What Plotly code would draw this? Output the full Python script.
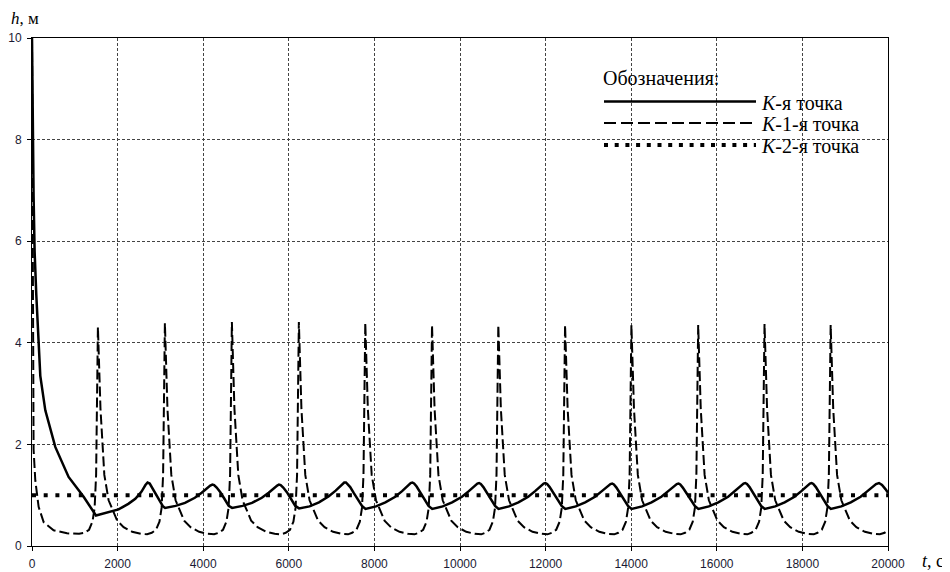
import plotly.graph_objects as go

# ---------------- data ----------------
# K-я точка (solid)
t_k = [0, 15, 37, 61, 100, 194, 311, 544, 855, 1206, 1350, 1495,
       2023, 2250, 2414, 2560, 2650, 2700, 2750, 2841, 2950, 3060,
       3110, 3355, 3575, 3805, 3965, 4085, 4165, 4215, 4255, 4315, 4400, 4495, 4595,
       4675, 4920, 5140, 5370, 5530, 5650, 5730, 5770, 5810, 5870, 5955, 6050, 6150,
       6240, 6485, 6705, 6935, 7095, 7215, 7295, 7335, 7375, 7435, 7520, 7610, 7710,
       7792, 8037, 8257, 8487, 8647, 8767, 8847, 8887, 8927, 8987, 9070, 9165, 9265,
       9351, 9596, 9816, 10046, 10206, 10326, 10406, 10446, 10486, 10546, 10629, 10720, 10820,
       10900, 11145, 11365, 11595, 11755, 11875, 11955, 11995, 12035, 12095, 12180, 12275, 12375,
       12460, 12705, 12925, 13155, 13315, 13435, 13515, 13555, 13595, 13655, 13730, 13825, 13925,
       14010, 14255, 14475, 14705, 14865, 14985, 15065, 15105, 15145, 15205, 15290, 15385, 15485,
       15570, 15815, 16035, 16265, 16425, 16545, 16625, 16665, 16705, 16765, 16840, 16935, 17035,
       17120, 17365, 17585, 17815, 17975, 18095, 18175, 18215, 18255, 18315, 18390, 18485, 18585,
       18665, 18910, 19130, 19360, 19520, 19640, 19720, 19790, 19860, 19940, 20000]
h_k = [10.0, 8.5, 6.9, 5.8, 4.95, 3.35, 2.67, 1.95, 1.36, 0.97, 0.78, 0.60,
       0.72, 0.83, 0.93, 1.07, 1.20, 1.25, 1.23, 1.10, 0.93, 0.78,
       0.75, 0.79, 0.85, 0.95, 1.05, 1.14, 1.19, 1.21, 1.20, 1.15, 1.06, 0.93, 0.79,
       0.75, 0.79, 0.85, 0.95, 1.05, 1.14, 1.19, 1.21, 1.20, 1.15, 1.06, 0.93, 0.79,
       0.74, 0.78, 0.86, 0.98, 1.09, 1.19, 1.25, 1.25, 1.22, 1.16, 1.04, 0.92, 0.79,
       0.73, 0.78, 0.86, 0.97, 1.08, 1.18, 1.24, 1.25, 1.23, 1.17, 1.05, 0.92, 0.79,
       0.73, 0.78, 0.86, 0.97, 1.08, 1.18, 1.23, 1.24, 1.22, 1.16, 1.05, 0.92, 0.79,
       0.73, 0.78, 0.86, 0.97, 1.08, 1.18, 1.23, 1.24, 1.22, 1.16, 1.05, 0.92, 0.79,
       0.73, 0.78, 0.86, 0.97, 1.08, 1.17, 1.22, 1.23, 1.21, 1.15, 1.05, 0.92, 0.79,
       0.73, 0.78, 0.86, 0.97, 1.08, 1.17, 1.22, 1.23, 1.21, 1.15, 1.05, 0.92, 0.79,
       0.73, 0.78, 0.86, 0.97, 1.08, 1.18, 1.23, 1.24, 1.22, 1.16, 1.05, 0.92, 0.79,
       0.73, 0.78, 0.86, 0.97, 1.08, 1.18, 1.23, 1.24, 1.22, 1.16, 1.05, 0.92, 0.79,
       0.73, 0.78, 0.86, 0.97, 1.08, 1.17, 1.22, 1.24, 1.20, 1.12, 1.05]

# K-1-я точка (dashed)
t_k1 = [0, 8, 18, 37, 77, 155, 272, 505, 818, 1100, 1233, 1333, 1413, 1463, 1498, 1520, 1533,
        1540, 1600, 1690, 1790, 1890, 1990, 2140, 2340, 2540, 2690, 2798, 2898, 2978, 3028, 3063, 3085, 3098,
        3105, 3165, 3255, 3355, 3455, 3555, 3705, 3905, 4105, 4255, 4363, 4463, 4543, 4593, 4628, 4650, 4663,
        4670, 4730, 4820, 4920, 5020, 5120, 5270, 5470, 5670, 5820, 5928, 6028, 6108, 6158, 6193, 6215, 6228,
        6235, 6295, 6385, 6485, 6585, 6685, 6835, 7035, 7235, 7385, 7480, 7580, 7660, 7710, 7745, 7767, 7780,
        7787, 7847, 7937, 8037, 8137, 8237, 8387, 8587, 8787, 8937, 9039, 9139, 9219, 9269, 9304, 9326, 9339,
        9346, 9406, 9496, 9596, 9696, 9796, 9946, 10146, 10346, 10496, 10588, 10688, 10768, 10818, 10853, 10875, 10888,
        10895, 10955, 11045, 11145, 11245, 11345, 11495, 11695, 11895, 12045, 12148, 12248, 12328, 12378, 12413, 12435, 12448,
        12455, 12515, 12605, 12705, 12805, 12905, 13055, 13255, 13455, 13605, 13698, 13798, 13878, 13928, 13963, 13985, 13998,
        14005, 14065, 14155, 14255, 14355, 14455, 14605, 14805, 15005, 15155, 15258, 15358, 15438, 15488, 15523, 15545, 15558,
        15565, 15625, 15715, 15815, 15915, 16015, 16165, 16365, 16565, 16715, 16808, 16908, 16988, 17038, 17073, 17095, 17108,
        17115, 17175, 17265, 17365, 17465, 17565, 17715, 17915, 18115, 18265, 18353, 18453, 18533, 18583, 18618, 18640, 18653,
        18660, 18720, 18810, 18910, 19010, 19110, 19260, 19460, 19660, 19810, 19920, 20000]
h_k1 = [10.0, 7.0, 4.0, 1.9, 1.29, 0.77, 0.47, 0.31, 0.25, 0.24, 0.26, 0.32, 0.48, 0.75, 1.4, 2.8, 3.8,
        4.31, 2.7, 1.4, 0.9, 0.68, 0.5, 0.37, 0.28, 0.24, 0.23, 0.26, 0.32, 0.48, 0.75, 1.4, 2.8, 3.8,
        4.39, 2.7, 1.4, 0.9, 0.68, 0.5, 0.37, 0.28, 0.24, 0.23, 0.26, 0.32, 0.48, 0.75, 1.4, 2.8, 3.8,
        4.41, 2.7, 1.4, 0.9, 0.68, 0.5, 0.37, 0.28, 0.24, 0.23, 0.26, 0.32, 0.48, 0.75, 1.4, 2.8, 3.8,
        4.41, 2.7, 1.4, 0.9, 0.68, 0.5, 0.37, 0.28, 0.24, 0.23, 0.26, 0.32, 0.48, 0.75, 1.4, 2.8, 3.8,
        4.39, 2.7, 1.4, 0.9, 0.68, 0.5, 0.37, 0.28, 0.24, 0.23, 0.26, 0.32, 0.48, 0.75, 1.4, 2.8, 3.8,
        4.35, 2.7, 1.4, 0.9, 0.68, 0.5, 0.37, 0.28, 0.24, 0.23, 0.26, 0.32, 0.48, 0.75, 1.4, 2.8, 3.8,
        4.35, 2.7, 1.4, 0.9, 0.68, 0.5, 0.37, 0.28, 0.24, 0.23, 0.26, 0.32, 0.48, 0.75, 1.4, 2.8, 3.8,
        4.35, 2.7, 1.4, 0.9, 0.68, 0.5, 0.37, 0.28, 0.24, 0.23, 0.26, 0.32, 0.48, 0.75, 1.4, 2.8, 3.8,
        4.35, 2.7, 1.4, 0.9, 0.68, 0.5, 0.37, 0.28, 0.24, 0.23, 0.26, 0.32, 0.48, 0.75, 1.4, 2.8, 3.8,
        4.35, 2.7, 1.4, 0.9, 0.68, 0.5, 0.37, 0.28, 0.24, 0.23, 0.26, 0.32, 0.48, 0.75, 1.4, 2.8, 3.8,
        4.37, 2.7, 1.4, 0.9, 0.68, 0.5, 0.37, 0.28, 0.24, 0.23, 0.26, 0.32, 0.48, 0.75, 1.4, 2.8, 3.8,
        4.35, 2.7, 1.4, 0.9, 0.68, 0.5, 0.37, 0.28, 0.24, 0.23, 0.26, 0.31]

# K-2-я точка (dotted)
t_k2 = [0, 20000]
h_k2 = [1.0, 1.0]

x_ticks = [0, 2000, 4000, 6000, 8000, 10000, 12000, 14000, 16000, 18000, 20000]
y_ticks = [0, 2, 4, 6, 8, 10]

legend_title = "Обозначения:"
legend_labels = ["<i>K</i>-я точка", "<i>K</i>-1-я точка", "<i>K</i>-2-я точка"]

# ---------------- styles ----------------
SERIF = "Liberation Serif"
SANS = "Liberation Sans"
DASH_K1 = "10px,4px"
DOT_K2 = "4px,7.7px"

fig = go.Figure()
fig.add_trace(go.Scatter(x=t_k, y=h_k, mode="lines",
                         line=dict(color="black", width=2.5), showlegend=False))
fig.add_trace(go.Scatter(x=t_k1, y=h_k1, mode="lines",
                         line=dict(color="black", width=2, dash=DASH_K1), showlegend=False))
fig.add_trace(go.Scatter(x=t_k2, y=h_k2, mode="lines",
                         line=dict(color="black", width=4, dash=DOT_K2), showlegend=False))

# page body has an 8px default margin: the figure is shifted by OFF
OFF = 8
W, H = 950 - OFF, 572 - OFF
L, R, T, B = 32 - OFF, 62, 38 - OFF, 26

fig.update_layout(
    width=W, height=H,
    margin=dict(l=L, r=R, t=T, b=B, autoexpand=False),
    paper_bgcolor="white", plot_bgcolor="white",
    font=dict(family=SANS, size=12, color="#1a1a33"),
)
fig.update_xaxes(range=[0, 20000], tickvals=x_ticks, ticktext=[str(v) for v in x_ticks],
                 showgrid=True, gridcolor="#444444", gridwidth=1, griddash="3px,2px",
                 showline=True, linecolor="black", linewidth=1, mirror=True,
                 ticks="outside", ticklen=4, tickcolor="black", ticklabelstandoff=3,
                 zeroline=False, automargin=False)
fig.update_yaxes(range=[0, 10], tickvals=y_ticks, ticktext=[str(v) for v in y_ticks],
                 showgrid=True, gridcolor="#444444", gridwidth=1, griddash="3px,2px",
                 showline=True, linecolor="black", linewidth=1, mirror=True,
                 ticks="outside", ticklen=4, tickcolor="black", ticklabelstandoff=3,
                 zeroline=False, automargin=False)

pw = W - L - R
ph = H - T - B
def px(x):  # page pixel -> paper fraction
    return (x - OFF - L) / pw
def py(y):
    return 1 - (y - OFF - T) / ph

# axis titles
fig.add_annotation(x=px(10), y=py(18), xref="paper", yref="paper", xanchor="left", yanchor="middle",
                   text="<i>h</i>, м", showarrow=False, font=dict(family=SERIF, size=17, color="black"),
                   borderpad=0)
fig.add_annotation(x=px(921), y=py(561), xref="paper", yref="paper", xanchor="left", yanchor="middle",
                   text="<i>t</i>, с", showarrow=False, font=dict(family=SERIF, size=18, color="black"),
                   borderpad=0)

# manual legend
fig.add_annotation(x=px(601), y=py(78), xref="paper", yref="paper", xanchor="left", yanchor="middle",
                   text=legend_title, showarrow=False, font=dict(family=SERIF, size=20, color="black"))
leg_y = [101.5, 123, 145]
leg_dash = ["solid", "12px,5px", "4px,6.7px"]
leg_w = [2.5, 2, 4]
for yy, lab, d, w in zip(leg_y, legend_labels, leg_dash, leg_w):
    fig.add_shape(type="line", xref="paper", yref="paper",
                  x0=px(604), x1=px(756), y0=py(yy), y1=py(yy),
                  line=dict(color="black", width=w, dash=d))
    fig.add_annotation(x=px(759), y=py(yy + 1), xref="paper", yref="paper", xanchor="left", yanchor="middle",
                       text=lab, showarrow=False, font=dict(family=SERIF, size=20, color="black"))

fig.write_html("out.html")
